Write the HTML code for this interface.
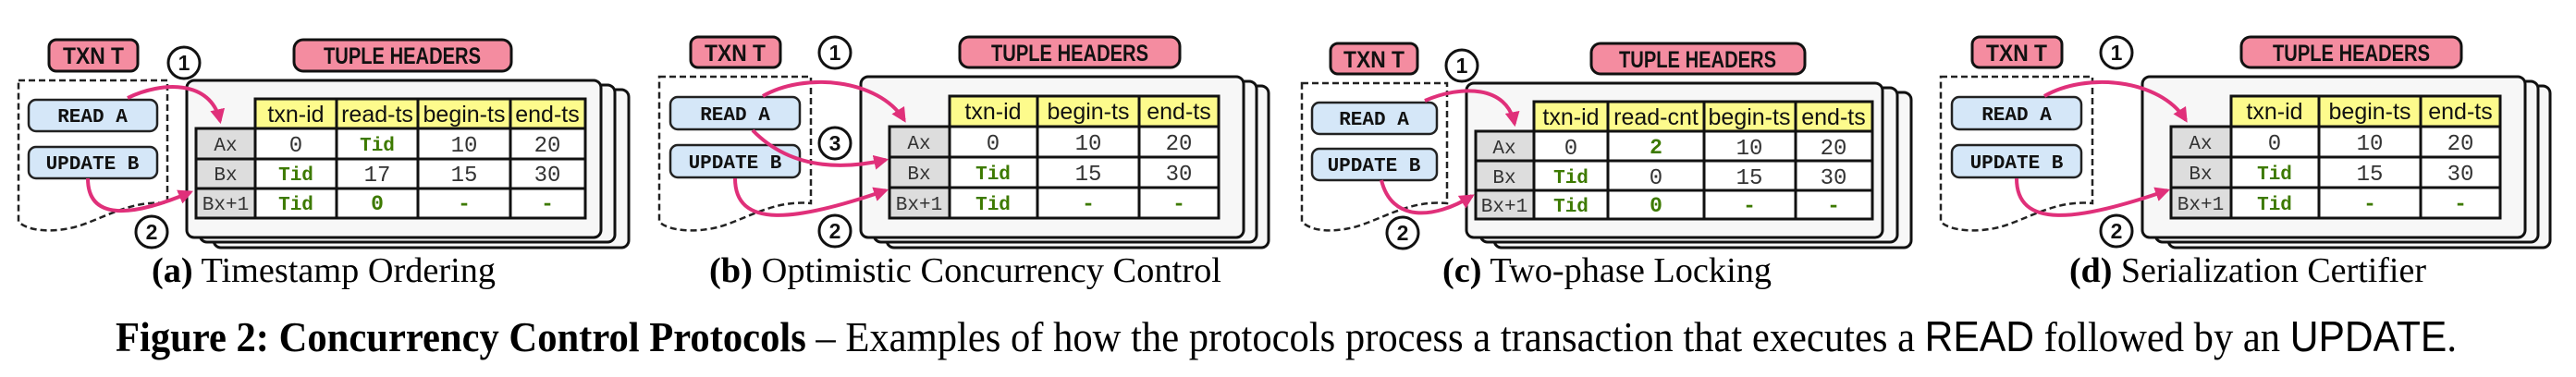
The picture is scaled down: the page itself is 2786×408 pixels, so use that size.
<!DOCTYPE html>
<html><head><meta charset="utf-8"><style>
html,body{margin:0;padding:0;background:#fff;}
svg{display:block;}
.lbl{font-family:"Liberation Sans Narrow","Liberation Sans",sans-serif;font-weight:bold;font-size:25px;fill:#111;}
.cmd{font-family:"Liberation Mono",monospace;font-weight:bold;font-size:21px;fill:#111;}
.hd{font-family:"Liberation Sans",sans-serif;font-size:25px;fill:#111;}
.num{font-family:"Liberation Mono",monospace;font-size:24px;fill:#333;}
.rh{font-family:"Liberation Mono",monospace;font-size:21px;fill:#333;}
.tid{font-family:"Liberation Mono",monospace;font-weight:bold;font-size:21px;fill:#3d7a00;}
.g{font-family:"Liberation Mono",monospace;font-weight:bold;font-size:23px;fill:#3d7a00;}
.cap{font-family:"Liberation Serif",serif;font-size:38px;fill:#000;}
.fig{font-family:"Liberation Serif",serif;font-size:46px;fill:#000;}
.circ{font-family:"Liberation Sans",sans-serif;font-weight:bold;font-size:23px;fill:#111;}
</style></head><body>
<svg width="2786" height="408" viewBox="0 0 2786 408" xmlns="http://www.w3.org/2000/svg">
<defs>
<marker id="ah" viewBox="0 0 10 10" refX="8" refY="5" markerWidth="4" markerHeight="4" orient="auto"><path d="M0,0 L10,5 L0,10 z" fill="#e0307a"/></marker>
</defs>
<g stroke="#111" stroke-width="3" fill="#f48ca0">
<rect x="53" y="43" width="96" height="34" rx="8"/><rect x="318" y="43" width="235" height="34" rx="10"/>
<rect x="747" y="40" width="97" height="33" rx="8"/><rect x="1038" y="40" width="238" height="33" rx="10"/>
<rect x="1439" y="47" width="94" height="33" rx="8"/><rect x="1721" y="47" width="231" height="33" rx="10"/>
<rect x="2133" y="40" width="97" height="33" rx="8"/><rect x="2424" y="40" width="238" height="33" rx="10"/>
</g>
<g class="lbl" text-anchor="middle">
<text x="101" y="69" textLength="66" lengthAdjust="spacingAndGlyphs">TXN T</text>
<text x="435" y="69" textLength="170" lengthAdjust="spacingAndGlyphs">TUPLE HEADERS</text>
<text x="795" y="66" textLength="66" lengthAdjust="spacingAndGlyphs">TXN T</text>
<text x="1157" y="66" textLength="170" lengthAdjust="spacingAndGlyphs">TUPLE HEADERS</text>
<text x="1486" y="73" textLength="66" lengthAdjust="spacingAndGlyphs">TXN T</text>
<text x="1836" y="73" textLength="170" lengthAdjust="spacingAndGlyphs">TUPLE HEADERS</text>
<text x="2181" y="66" textLength="66" lengthAdjust="spacingAndGlyphs">TXN T</text>
<text x="2543" y="66" textLength="170" lengthAdjust="spacingAndGlyphs">TUPLE HEADERS</text>
</g>
<g fill="#fff" stroke="#222" stroke-width="2.5" stroke-dasharray="7 4">
<path d="M20,87 H181 V220 C140,216 110,238 80,246 C55,252 30,250 20,240 Z"/>
<path d="M713,83 H877 V220 C836,216 806,238 776,246 C751,252 723,250 713,240 Z"/>
<path d="M1408,90 H1565 V220 C1524,216 1494,238 1464,246 C1439,252 1418,250 1408,240 Z"/>
<path d="M2099,83 H2263 V220 C2222,216 2192,238 2162,246 C2137,252 2109,250 2099,240 Z"/>
</g>
<g fill="#d5e7f8" stroke="#222" stroke-width="2.5">
<rect x="31" y="108" width="139" height="34" rx="8"/><rect x="31" y="159" width="139" height="34" rx="8"/>
<rect x="725" y="105" width="140" height="35" rx="8"/><rect x="725" y="157" width="140" height="35" rx="8"/>
<rect x="1419" y="111" width="135" height="34" rx="8"/><rect x="1419" y="161" width="135" height="34" rx="8"/>
<rect x="2111" y="105" width="140" height="35" rx="8"/><rect x="2111" y="157" width="140" height="35" rx="8"/>
</g>
<g class="cmd" text-anchor="middle">
<text x="100" y="132">READ A</text><text x="100" y="183">UPDATE B</text>
<text x="795" y="130">READ A</text><text x="795" y="182">UPDATE B</text>
<text x="1486" y="135">READ A</text><text x="1486" y="185">UPDATE B</text>
<text x="2181" y="130">READ A</text><text x="2181" y="182">UPDATE B</text>
</g>
<g fill="#f7f7f7" stroke="#111" stroke-width="3">
<rect x="231" y="97" width="449" height="171" rx="8"/><rect x="216" y="92" width="449" height="170" rx="8"/><rect x="202" y="87" width="448" height="170" rx="8"/>
<rect x="959" y="93" width="413" height="175" rx="8"/><rect x="945" y="88" width="414" height="174" rx="8"/><rect x="931" y="83" width="414" height="174" rx="8"/>
<rect x="1616" y="100" width="451" height="168" rx="8"/><rect x="1601" y="95" width="451" height="167" rx="8"/><rect x="1586" y="90" width="450" height="167" rx="8"/>
<rect x="2345" y="93" width="413" height="175" rx="8"/><rect x="2331" y="88" width="414" height="174" rx="8"/><rect x="2317" y="83" width="414" height="174" rx="8"/>
</g>
<g stroke="#111" stroke-width="3">
<rect x="276" y="107" width="357" height="32" fill="#fdfb8c"/>
<rect x="212" y="139" width="64" height="97" fill="#ddd"/>
<rect x="276" y="139" width="357" height="97" fill="#fff"/>
<path d="M364,107V236M452,107V236M552,107V236M212,172H633M212,204H633" fill="none"/>
<rect x="1027" y="104" width="291" height="33" fill="#fdfb8c"/>
<rect x="962" y="137" width="65" height="99" fill="#ddd"/>
<rect x="1027" y="137" width="291" height="99" fill="#fff"/>
<path d="M1122,104V236M1232,104V236M962,170H1318M962,203H1318" fill="none"/>
<rect x="1659" y="110" width="366" height="32" fill="#fdfb8c"/>
<rect x="1596" y="142" width="63" height="95" fill="#ddd"/>
<rect x="1659" y="142" width="366" height="95" fill="#fff"/>
<path d="M1739,110V237M1843,110V237M1942,110V237M1596,174H2025M1596,206H2025" fill="none"/>
<rect x="2413" y="104" width="291" height="33" fill="#fdfb8c"/>
<rect x="2348" y="137" width="65" height="99" fill="#ddd"/>
<rect x="2413" y="137" width="291" height="99" fill="#fff"/>
<path d="M2508,104V236M2618,104V236M2348,170H2704M2348,203H2704" fill="none"/>
</g>
<g text-anchor="middle">
<text class="hd" x="320" y="132">txn-id</text><text class="hd" x="408" y="132">read-ts</text><text class="hd" x="502" y="132">begin-ts</text><text class="hd" x="592" y="132">end-ts</text>
<text class="rh" x="244" y="163">Ax</text><text class="num" x="320" y="164">0</text><text class="tid" x="408" y="163">Tid</text><text class="num" x="502" y="164">10</text><text class="num" x="592" y="164">20</text>
<text class="rh" x="244" y="195">Bx</text><text class="tid" x="320" y="195">Tid</text><text class="num" x="408" y="196">17</text><text class="num" x="502" y="196">15</text><text class="num" x="592" y="196">30</text>
<text class="rh" x="244" y="227" font-size="18">Bx+1</text><text class="tid" x="320" y="227">Tid</text><text class="g" x="408" y="227">0</text><text class="g" x="502" y="227">-</text><text class="g" x="592" y="227">-</text>
</g>
<g text-anchor="middle">
<text class="hd" x="1074" y="129">txn-id</text><text class="hd" x="1177" y="129">begin-ts</text><text class="hd" x="1275" y="129">end-ts</text>
<text class="rh" x="994" y="161">Ax</text><text class="num" x="1074" y="162">0</text><text class="num" x="1177" y="162">10</text><text class="num" x="1275" y="162">20</text>
<text class="rh" x="994" y="194">Bx</text><text class="tid" x="1074" y="194">Tid</text><text class="num" x="1177" y="195">15</text><text class="num" x="1275" y="195">30</text>
<text class="rh" x="994" y="227" font-size="18">Bx+1</text><text class="tid" x="1074" y="227">Tid</text><text class="g" x="1177" y="227">-</text><text class="g" x="1275" y="227">-</text>
</g>
<g text-anchor="middle">
<text class="hd" x="1699" y="135">txn-id</text><text class="hd" x="1791" y="135">read-cnt</text><text class="hd" x="1892" y="135">begin-ts</text><text class="hd" x="1983" y="135">end-ts</text>
<text class="rh" x="1627" y="166">Ax</text><text class="num" x="1699" y="167">0</text><text class="g" x="1791" y="166">2</text><text class="num" x="1892" y="167">10</text><text class="num" x="1983" y="167">20</text>
<text class="rh" x="1627" y="198">Bx</text><text class="tid" x="1699" y="198">Tid</text><text class="num" x="1791" y="199">0</text><text class="num" x="1892" y="199">15</text><text class="num" x="1983" y="199">30</text>
<text class="rh" x="1627" y="229" font-size="18">Bx+1</text><text class="tid" x="1699" y="229">Tid</text><text class="g" x="1791" y="229">0</text><text class="g" x="1892" y="229">-</text><text class="g" x="1983" y="229">-</text>
</g>
<g text-anchor="middle">
<text class="hd" x="2460" y="129">txn-id</text><text class="hd" x="2563" y="129">begin-ts</text><text class="hd" x="2661" y="129">end-ts</text>
<text class="rh" x="2380" y="161">Ax</text><text class="num" x="2460" y="162">0</text><text class="num" x="2563" y="162">10</text><text class="num" x="2661" y="162">20</text>
<text class="rh" x="2380" y="194">Bx</text><text class="tid" x="2460" y="194">Tid</text><text class="num" x="2563" y="195">15</text><text class="num" x="2661" y="195">30</text>
<text class="rh" x="2380" y="227" font-size="18">Bx+1</text><text class="tid" x="2460" y="227">Tid</text><text class="g" x="2563" y="227">-</text><text class="g" x="2661" y="227">-</text>
</g>
<g fill="none" stroke="#e0307a" stroke-width="4" marker-end="url(#ah)">
<path d="M138,106 C175,88 228,86 238,131"/>
<path d="M95,193 C95,238 140,236 206,208"/>
<path d="M825,104 C870,78 950,85 978,130"/>
<path d="M814,141 C850,178 900,186 958,173"/>
<path d="M795,193 C795,248 860,240 958,206"/>
<path d="M1541,109 C1580,92 1630,92 1638,134"/>
<path d="M1494,195 C1505,240 1550,238 1592,212"/>
<path d="M2211,104 C2256,78 2336,85 2364,130"/>
<path d="M2181,193 C2181,248 2246,240 2344,206"/>
</g>
<g fill="#fff" stroke="#111" stroke-width="3">
<circle cx="199" cy="68" r="17"/><circle cx="164" cy="251" r="17"/>
<circle cx="903" cy="57" r="17"/><circle cx="903" cy="155" r="17"/><circle cx="903" cy="250" r="17"/>
<circle cx="1581" cy="71" r="17"/><circle cx="1517" cy="252" r="17"/>
<circle cx="2289" cy="57" r="17"/><circle cx="2289" cy="250" r="17"/>
</g>
<g class="circ" text-anchor="middle">
<text x="199" y="76">1</text><text x="164" y="259">2</text>
<text x="903" y="65">1</text><text x="903" y="163">3</text><text x="903" y="258">2</text>
<text x="1581" y="79">1</text><text x="1517" y="260">2</text>
<text x="2289" y="65">1</text><text x="2289" y="258">2</text>
</g>
<text class="cap" x="164" y="305" textLength="372" lengthAdjust="spacingAndGlyphs"><tspan font-weight="bold">(a)</tspan> Timestamp Ordering</text>
<text class="cap" x="767" y="305" textLength="554" lengthAdjust="spacingAndGlyphs"><tspan font-weight="bold">(b)</tspan> Optimistic Concurrency Control</text>
<text class="cap" x="1560" y="305" textLength="356" lengthAdjust="spacingAndGlyphs"><tspan font-weight="bold">(c)</tspan> Two-phase Locking</text>
<text class="cap" x="2238" y="305" textLength="386" lengthAdjust="spacingAndGlyphs"><tspan font-weight="bold">(d)</tspan> Serialization Certifier</text>
<text class="fig" x="125" y="380" textLength="2532" lengthAdjust="spacingAndGlyphs"><tspan font-weight="bold">Figure 2: Concurrency Control Protocols</tspan> – Examples of how the protocols process a transaction that executes a <tspan font-family="Liberation Sans Narrow, Liberation Sans, sans-serif">READ</tspan> followed by an <tspan font-family="Liberation Sans Narrow, Liberation Sans, sans-serif">UPDATE</tspan>.</text>
</svg>
</body></html>
